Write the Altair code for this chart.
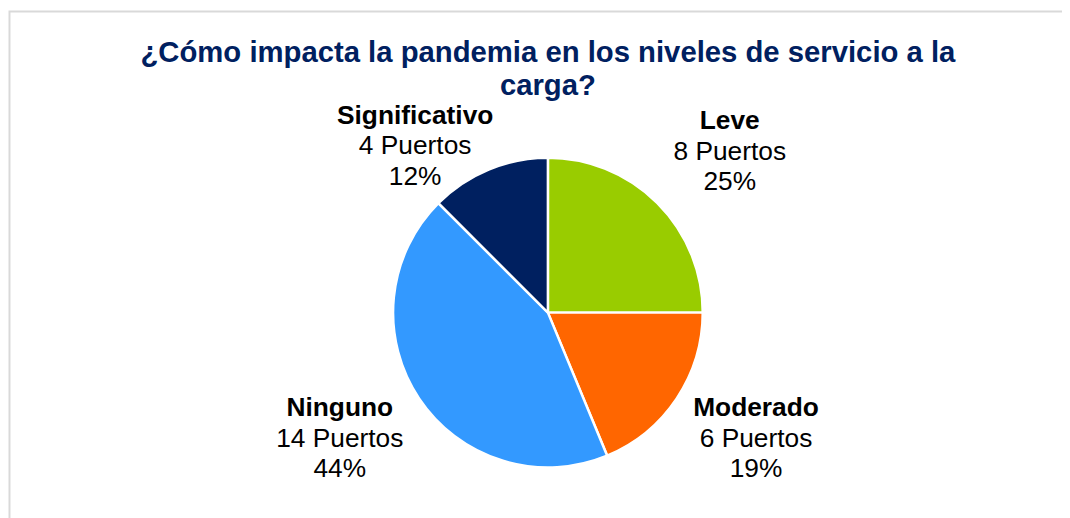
import altair as alt
import pandas as pd

# ---- data ----
categories = ["Leve", "Moderado", "Ninguno", "Significativo"]
puertos = [8, 6, 14, 4]
percent_labels = ["25%", "19%", "44%", "12%"]
colors = ["#99CC00", "#FF6600", "#3399FF", "#002060"]
title_lines = ["¿Cómo impacta la pandemia en los niveles de servicio a la", "carga?"]

df = pd.DataFrame({
    "cat": categories,
    "value": puertos,
    "idx": list(range(len(categories))),
    "count_lbl": [f"{v} Puertos" for v in puertos],
    "pct_lbl": percent_labels,
})

W, H = 1062, 510
CX, CY = 544, 305
R = 156
LABEL_R = 245
FONT = "Liberation Sans"

# per-label nudges (Excel-like outside-end placement)
nudges = {
    "Leve": (10, 11),
    "Moderado": (6, -9),
    "Ninguno": (-6, -9),
    "Significativo": (-40, 59),
}

base = alt.Chart(df).encode(
    theta=alt.Theta("value:Q", stack=True),
    order=alt.Order("idx:Q"),
)

pie = base.mark_arc(outerRadius=R, stroke="white", strokeWidth=2.5).encode(
    color=alt.Color("cat:N", scale=alt.Scale(domain=categories, range=colors), legend=None),
    x=alt.value(CX),
    y=alt.value(CY),
)

layers = [pie]
for cat in categories:
    dx, dy = nudges[cat]
    for field, line_dy, weight in [("cat", -31, "bold"), ("count_lbl", 0, "normal"), ("pct_lbl", 31, "normal")]:
        lay = base.transform_calculate(
            t=f"datum.cat == '{cat}' ? datum.{field} : ''"
        ).mark_text(
            radius=LABEL_R, font=FONT, fontSize=26.5, fontWeight=weight, color="#000000",
            align="center", baseline="middle", dx=dx, dy=dy + line_dy,
        ).encode(
            text="t:N",
            detail="cat:N",
            x=alt.value(CX),
            y=alt.value(CY),
        )
        layers.append(lay)

title_df = pd.DataFrame({"t": ["\n".join(title_lines)]})
title = alt.Chart(title_df).mark_text(
    font=FONT, fontSize=29.5, fontWeight="bold", color="#002060", align="center",
    baseline="alphabetic", lineBreak="\n", lineHeight=34,
).encode(text="t:N", x=alt.value(CX), y=alt.value(52))

border = alt.Chart(title_df).mark_rect(
    fill=None, stroke="#D9D9D9", strokeWidth=2
).encode(x=alt.value(1.5), y=alt.value(1.5), x2=alt.value(1200), y2=alt.value(800))

chart = alt.layer(border, *layers, title).properties(
    width=W, height=H, autosize=alt.AutoSizeParams(type="none"), padding=0,
).configure_view(stroke=None)

chart.save("out.html", embed_options={"renderer": "svg", "actions": False})
